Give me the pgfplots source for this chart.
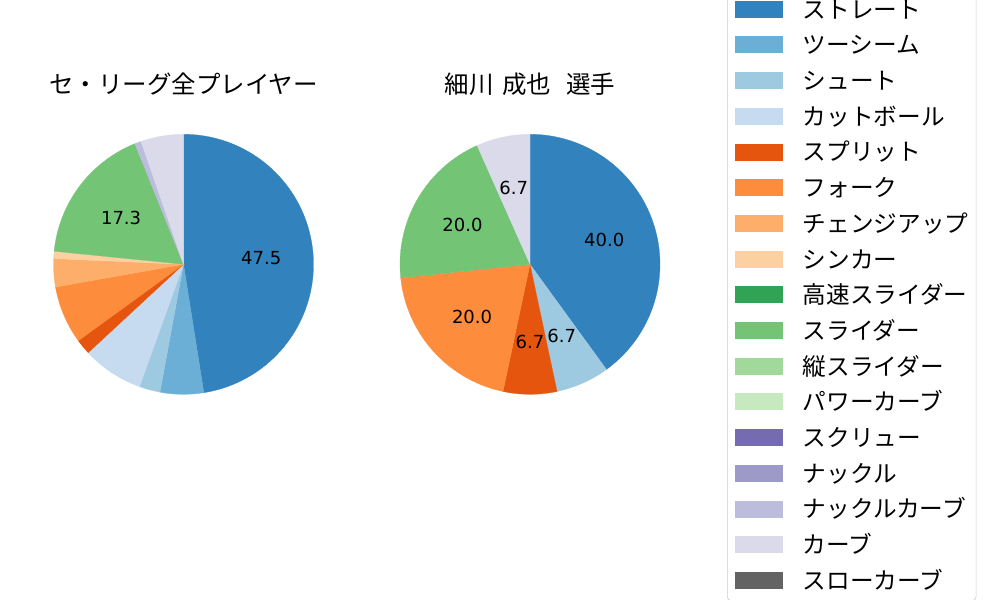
\documentclass[border=0pt]{standalone}
\usepackage{fontspec}
\setmainfont{DejaVu Sans}
\newfontfamily\jp{Noto Sans CJK JP}
\usepackage{pgfplots}
\usepackage{pgfplotstable}
\pgfplotsset{compat=1.18}

% tab20c
\definecolor{c1}{HTML}{3182BD}
\definecolor{c2}{HTML}{6BAED6}
\definecolor{c3}{HTML}{9ECAE1}
\definecolor{c4}{HTML}{C6DBEF}
\definecolor{c5}{HTML}{E6550D}
\definecolor{c6}{HTML}{FD8D3C}
\definecolor{c7}{HTML}{FDAE6B}
\definecolor{c8}{HTML}{FDD0A2}
\definecolor{c9}{HTML}{31A354}
\definecolor{c10}{HTML}{74C476}
\definecolor{c11}{HTML}{A1D99B}
\definecolor{c12}{HTML}{C7E9C0}
\definecolor{c13}{HTML}{756BB1}
\definecolor{c14}{HTML}{9E9AC8}
\definecolor{c15}{HTML}{BCBDDC}
\definecolor{c16}{HTML}{DADAEB}
\definecolor{c17}{HTML}{636363}

% idx = pitch type (colour), value = share, show = print label
\pgfplotstableread{
idx value show
1  47.5 1
2  5.4  0
3  2.6  0
4  7.6  0
5  1.9  0
6  7.2  0
7  3.5  0
8  0.9  0
10 17.3 1
15 0.8  0
16 5.3  0
}\league

\pgfplotstableread{
idx value show
1  6 1
3  1 1
5  1 1
6  3 1
10 3 1
16 1 1
}\player

% pie: starts at 12 o'clock, runs clockwise
\newcommand\drawpie[1]{%
  \pgfplotstablegetrowsof{#1}%
  \pgfmathtruncatemacro\nrows{\pgfplotsretval-1}%
  \def\pietotal{0}%
  \pgfplotsforeachungrouped \i in {0,...,\nrows}{%
    \pgfplotstablegetelem{\i}{value}\of{#1}%
    \pgfmathsetmacro\pietotal{\pietotal+\pgfplotsretval}}%
  \def\piecum{0}%
  \pgfplotsforeachungrouped \i in {0,...,\nrows}{%
    \pgfplotstablegetelem{\i}{idx}\of{#1}\let\pidx\pgfplotsretval
    \pgfplotstablegetelem{\i}{value}\of{#1}\let\pval\pgfplotsretval
    \pgfplotstablegetelem{\i}{show}\of{#1}\let\pshow\pgfplotsretval
    \pgfmathsetmacro\fa{\piecum/\pietotal}%
    \pgfmathsetmacro\fb{(\piecum+\pval)/\pietotal}%
    \pgfmathsetmacro\pa{90-360*\fa}%
    \pgfmathsetmacro\pb{90-360*\fb}%
    \pgfmathsetmacro\pmid{(\pa+\pb)/2}%
    \pgfmathsetmacro\lx{0.6*cos(\pmid)}%
    \pgfmathsetmacro\ly{0.6*sin(\pmid)}%
    \pgfmathsetmacro\ppct{100*(\pval/\pietotal)}%
    \pgfmathtruncatemacro\tenths{round(10*\ppct)}%
    \pgfmathtruncatemacro\ip{floor(\tenths/10)}%
    \pgfmathtruncatemacro\fp{\tenths-10*\ip}%
    \edef\doslice{\noexpand\addplot[forget plot, fill=c\pidx, draw=c\pidx,
      line width=0.2pt, domain=\pb:\pa, samples=80]
      ({cos(x)},{sin(x)}) -- (axis cs:0,0) -- cycle;}%
    \doslice
    \ifnum\pshow=1
      \edef\dolabel{\noexpand\node[font=\noexpand\fontsize{13}{15}\noexpand\selectfont]
        at (axis cs:\lx,\ly) {\ip.\fp};}%
      \dolabel
    \fi
    \pgfmathsetmacro\piecum{\piecum+\pval}%
  }%
}

\pgfplotsset{
  pieaxis/.style={
    x=1.3in, y=1.3in,
    xmin=-1, xmax=1, ymin=-1, ymax=1,
    hide axis, clip=false, anchor=center,
  },
}

\begin{document}
\begin{tikzpicture}
\path[use as bounding box, clip] (0,0) rectangle (10in,6in);

\begin{axis}[pieaxis, at={(1.835in,3.357in)}]
  \drawpie{\league}
  \node[font=\jp\fontsize{17.7}{20}\selectfont] at (axis cs:0,1.385)
    {セ・リーグ全プレイヤー};
\end{axis}

\begin{axis}[pieaxis, at={(5.30in,3.357in)},
  legend image code/.code={%
    \path[#1, sharp corners] (0in,-0.085in) rectangle (0.48in,0.085in);
    \path (0.68in,0);},
  legend cell align=left,
  legend style={
    at={(axis description cs:1.2577,1.56)}, anchor=north west,
    draw=black!20, fill=white, rounded corners=3pt,
    font=\jp\fontsize{17.1}{20}\selectfont,
    inner xsep=5.5pt, inner ysep=6pt,
    row sep=8.5pt,
    nodes={inner sep=0pt, text height=15.1pt, text depth=2.2pt},
  },
]
  \drawpie{\player}
  \node[font=\jp\fontsize{17.7}{20}\selectfont] at (axis cs:0,1.385)
    {細川\hspace{6pt}成也\hspace{11pt}選手};
  \addlegendimage{fill=c1, draw=none}\addlegendentry{ストレート}
  \addlegendimage{fill=c2, draw=none}\addlegendentry{ツーシーム}
  \addlegendimage{fill=c3, draw=none}\addlegendentry{シュート}
  \addlegendimage{fill=c4, draw=none}\addlegendentry{カットボール}
  \addlegendimage{fill=c5, draw=none}\addlegendentry{スプリット}
  \addlegendimage{fill=c6, draw=none}\addlegendentry{フォーク}
  \addlegendimage{fill=c7, draw=none}\addlegendentry{チェンジアップ}
  \addlegendimage{fill=c8, draw=none}\addlegendentry{シンカー}
  \addlegendimage{fill=c9, draw=none}\addlegendentry{高速スライダー}
  \addlegendimage{fill=c10, draw=none}\addlegendentry{スライダー}
  \addlegendimage{fill=c11, draw=none}\addlegendentry{縦スライダー}
  \addlegendimage{fill=c12, draw=none}\addlegendentry{パワーカーブ}
  \addlegendimage{fill=c13, draw=none}\addlegendentry{スクリュー}
  \addlegendimage{fill=c14, draw=none}\addlegendentry{ナックル}
  \addlegendimage{fill=c15, draw=none}\addlegendentry{ナックルカーブ}
  \addlegendimage{fill=c16, draw=none}\addlegendentry{カーブ}
  \addlegendimage{fill=c17, draw=none}\addlegendentry{スローカーブ}
\end{axis}
\end{tikzpicture}
\end{document}
